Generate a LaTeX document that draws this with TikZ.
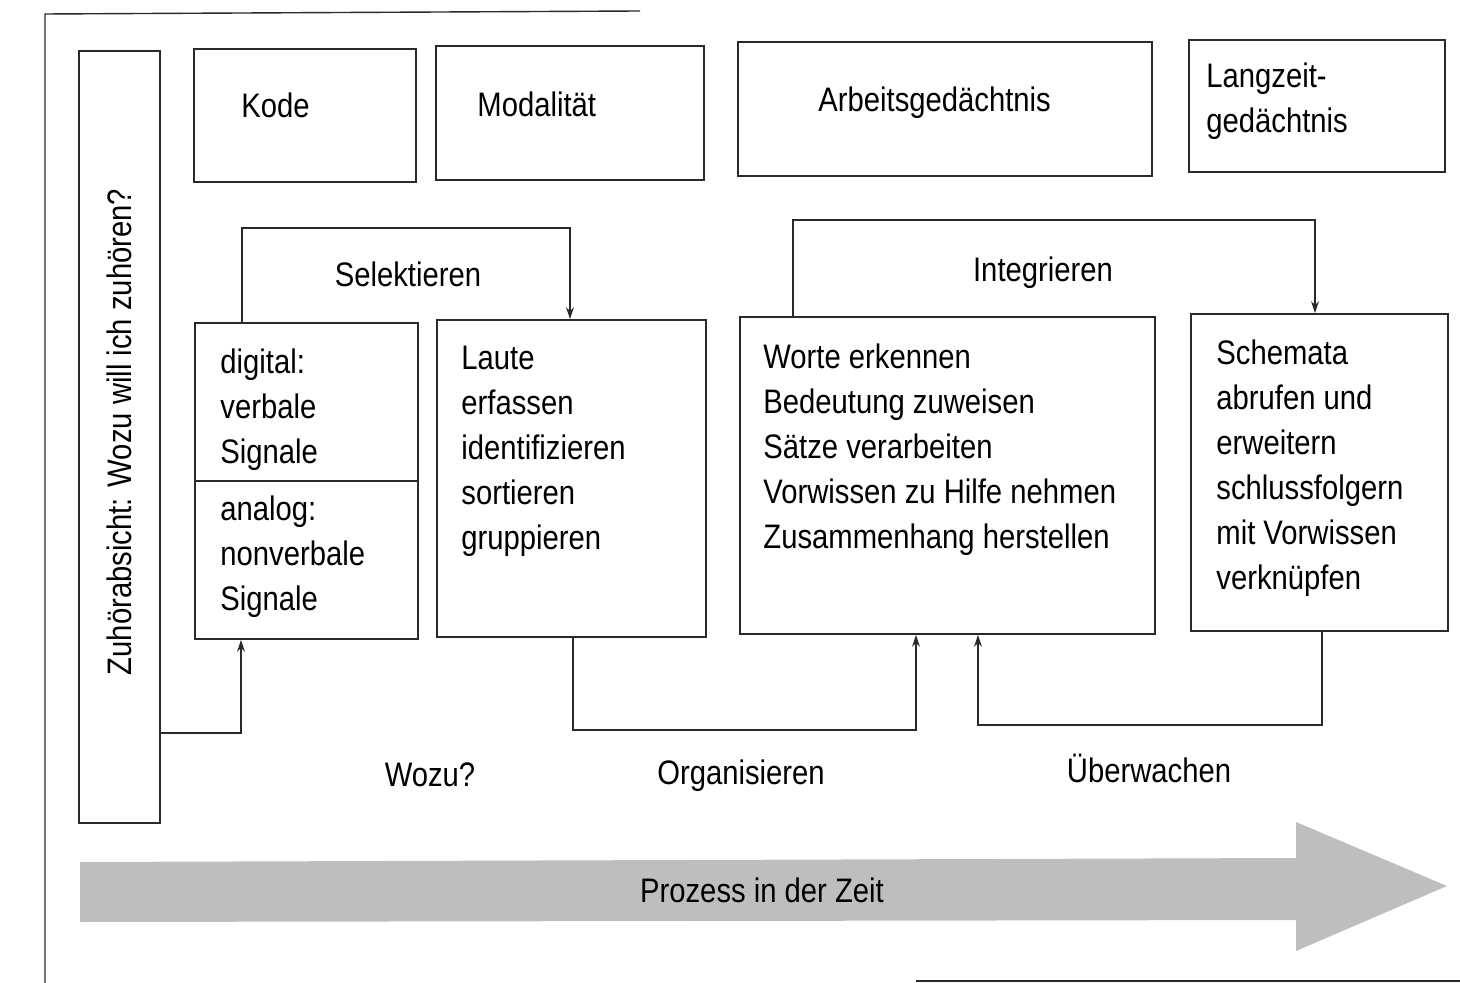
\documentclass[tikz,border=0pt]{standalone}
\usepackage{fontspec}
\setmainfont{Liberation Sans}[FakeStretch=0.86]
\usepackage{tikz}
\usetikzlibrary{arrows.meta,positioning,fit}
\definecolor{linedark}{HTML}{2A2A2A}
\definecolor{arrowgray}{HTML}{BEBEBE}

\begin{document}
\begin{tikzpicture}[x=0.5pt, y=-0.5pt,
    box/.style={draw=linedark, line width=0.9pt, inner sep=0pt},
    txt/.style={font=\fontsize{17}{22.5}\selectfont, inner sep=0pt, align=left},
    conn/.style={draw=linedark, line width=0.7pt},
    arr/.style={conn, -{Stealth[length=6pt, width=4pt]}}]
    \useasboundingbox (0,0) rectangle (1460,983);

    % Outer frame
    \draw[linedark, line width=0.7pt] (640,11) -- (45,14) -- (45,983);
    \draw[linedark, line width=0.7pt] (916,981) -- (1460,981);

    % Left bar
    \node[box, fit={(79,51) (160,823)}] (bar) {};
    \node[txt, rotate=90] (bartext) at (119,432) {Zuhörabsicht: Wozu will ich zuhören?};

    % Top row
    \node[box, fit={(194,49) (416,182)}] (kode) {};
    \node[txt, anchor=base west] (kodetext) at (241,118) {Kode};
    \node[box, fit={(436,46) (704,180)}] (modal) {};
    \node[txt, anchor=base west] (modaltext) at (477,117) {Modalität};
    \node[box, fit={(738,42) (1152,176)}] (arbeit) {};
    \node[txt, anchor=base west] (arbeittext) at (818,112) {Arbeitsgedächtnis};
    \node[box, fit={(1189,40) (1445,172)}] (langzeit) {};
    \node[txt, anchor=north west] (langzeittext) at (1206,62) {Langzeit-\\gedächtnis};

    % Middle row
    \node[box, fit={(195,323) (418,481)}] (digital) {};
    \node[box, fit={(195,481) (418,639)}] (analog) {};
    \node[txt, anchor=north west] (digitaltext) at (220,348) {digital:\\verbale\\Signale};
    \node[txt, anchor=north west] (analogtext) at (220,495) {analog:\\nonverbale\\Signale};
    \node[box, fit={(437,320) (706,637)}] (laute) {};
    \node[txt, anchor=north west] (lautetext) at (461,346) {Laute\\erfassen\\identifizieren\\sortieren\\gruppieren};
    \node[box, fit={(740,317) (1155,634)}] (worte) {};
    \node[txt, anchor=north west] (wortetext) at (763,343) {Worte erkennen\\Bedeutung zuweisen\\Sätze verarbeiten\\Vorwissen zu Hilfe nehmen\\Zusammenhang herstellen};
    \node[box, fit={(1191,314) (1448,631)}] (schemata) {};
    \node[txt, anchor=north west] (schematatext) at (1216,339) {Schemata\\abrufen und\\erweitern\\schlussfolgern\\mit Vorwissen\\verknüpfen};

    % Connectors
    \draw[arr] (digital.north -| 242,0) |- (570,228) -- (laute.north -| 570,0);
    \draw[arr] (worte.north -| 793,0) |- (1315,220) -- (schemata.north -| 1315,0);
    \draw[arr] (bar.east |- 0,733) -| (analog.south -| 241,0);
    \draw[arr] (laute.south -| 573,0) |- (916,730) -- (worte.south -| 916,0);
    \draw[arr] (schemata.south -| 1322,0) |- (978,725) -- (worte.south -| 978,0);

    % Labels
    \node[txt, anchor=base] (selektieren) at (408,287) {Selektieren};
    \node[txt, anchor=base] (integrieren) at (1043,282) {Integrieren};
    \node[txt, anchor=base] (wozu) at (430,786) {Wozu?};
    \node[txt, anchor=base] (organisieren) at (741,784) {Organisieren};
    \node[txt, anchor=base] (ueberwachen) at (1149,782) {Überwachen};

    % Time arrow
    \fill[arrowgray] (80,862) -- (1296,858) -- (1296,822) -- (1447,886)
        -- (1296,951) -- (1296,920) -- (80,922) -- cycle;
    \node[txt] (prozess) at (762,890) {Prozess in der Zeit};
\end{tikzpicture}
\end{document}
